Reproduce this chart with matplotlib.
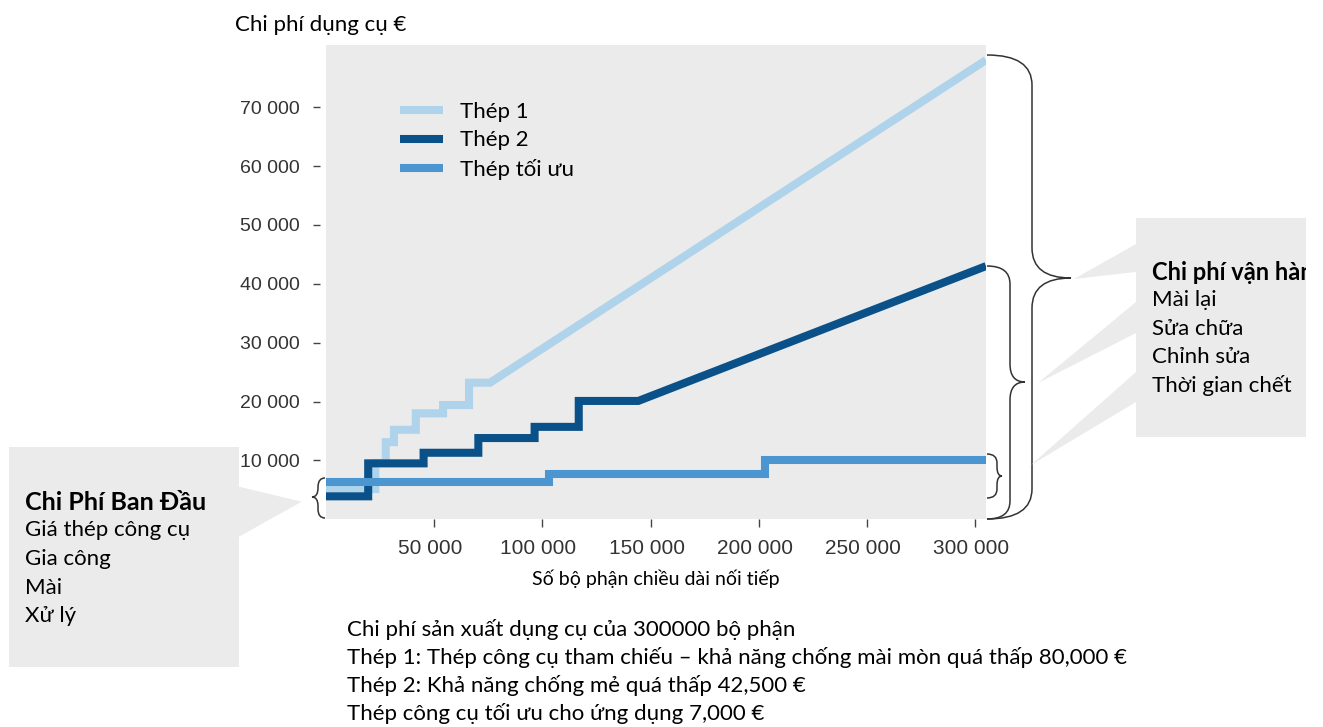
import matplotlib
matplotlib.use("Agg")
import matplotlib.pyplot as plt
from matplotlib.path import Path
from matplotlib.patches import PathPatch, Rectangle, Polygon
from matplotlib.ticker import FuncFormatter
from matplotlib.transforms import Affine2D, ScaledTranslation

# Data (parts, EUR)
thep1_x = [0, 22800, 22800, 27600, 27600, 31400, 31400, 41500, 41500, 54100, 54100, 66100, 66100, 75800, 305000]
thep1_y = [5150, 5150, 9560, 9560, 13100, 13100, 15200, 15200, 18000, 18000, 19400, 19400, 23200, 23200, 78000]

thep2_x = [0, 19500, 19500, 45100, 45100, 70400, 70400, 96400, 96400, 116800, 116800, 144300, 305000]
thep2_y = [3900, 3900, 9500, 9500, 11300, 11300, 13800, 13800, 15700, 15700, 20100, 20100, 43000]

toiuu_x = [0, 103000, 103000, 202900, 202900, 305000]
toiuu_y = [6250, 6250, 7650, 7650, 10100, 10100]

series_labels = ["Thép 1", "Thép 2", "Thép tối ưu"]
series_colors = ["#aed3ea", "#0a5189", "#4b95d1"]

x_ticks = [50000, 100000, 150000, 200000, 250000, 300000]
y_ticks = [10000, 20000, 30000, 40000, 50000, 60000, 70000]

left_box_lines = ["Chi Phí Ban Đầu", "Giá thép công cụ", "Gia công", "Mài", "Xử lý"]
right_box_lines = ["Chi phí vận hành", "Mài lại", "Sửa chữa", "Chỉnh sửa", "Thời gian chết"]
note_lines = [
    "Chi phí sản xuất dụng cụ của 300000 bộ phận",
    "Thép 1: Thép công cụ tham chiếu – khả năng chống mài mòn quá thấp 80,000 €",
    "Thép 2: Khả năng chống mẻ quá thấp 42,500 €",
    "Thép công cụ tối ưu cho ứng dụng 7,000 €",
]

W, H = 1323, 727
TEXT_FONT = ["Lato", "Noto Sans", "DejaVu Sans"]
TICK_FONT = "Liberation Sans"
GRAY = "#ebebeb"
FS = 16

fig = plt.figure(figsize=(W / 100, H / 100), dpi=100)
# pixel coords with origin at top-left, for the annotations around the chart
px = Affine2D().scale(1 / W, -1 / H).translate(0, 1) + fig.transFigure

ax = fig.add_axes([326 / W, (H - 519.3) / H, 660 / W, 474.3 / H])
ax.set_facecolor(GRAY)
for s in ax.spines.values():
    s.set_visible(False)

lw = 5.8
ax.plot(thep1_x, thep1_y, color=series_colors[0], lw=lw, solid_joinstyle="miter",
        solid_capstyle="butt", label=series_labels[0], zorder=2)
ax.plot(thep2_x, thep2_y, color=series_colors[1], lw=lw, solid_joinstyle="miter",
        solid_capstyle="butt", label=series_labels[1], zorder=3)
ax.plot(toiuu_x, toiuu_y, color=series_colors[2], lw=lw, solid_joinstyle="miter",
        solid_capstyle="butt", label=series_labels[2], zorder=4)

ax.set_xlim(0, 305000)
ax.set_ylim(0, 80550)
ax.set_xticks(x_ticks)
ax.set_yticks(y_ticks)
fmt = FuncFormatter(lambda v, p: f"{v:,.0f}".replace(",", " "))
ax.xaxis.set_major_formatter(fmt)
ax.yaxis.set_major_formatter(fmt)
ax.spines["left"].set_position(("outward", 4))
ax.tick_params(axis="y", length=5, width=1, color="#444", pad=10, labelsize=14, labelcolor="#333")
ax.tick_params(axis="x", length=6, width=1, color="#444", pad=8, labelsize=15, labelcolor="#333")
for t in ax.get_yticklabels():
    t.set_fontfamily(TICK_FONT)
shift = ScaledTranslation(-0.04, 0, fig.dpi_scale_trans)
for t in ax.get_xticklabels():
    t.set_fontfamily(TICK_FONT)
    t.set_transform(t.get_transform() + shift)

leg = ax.legend(loc="upper left", bbox_to_anchor=((400 - 326) / 660, (519.3 - 102) / 474.3),
                frameon=False, borderpad=0, borderaxespad=0, handlelength=1.95,
                handletextpad=0.75, labelspacing=0.38,
                prop={"family": TEXT_FONT, "size": FS})

fig.text(235, 25, "Chi phí dụng cụ €", transform=px, family=TEXT_FONT, fontsize=FS, va="center")
fig.text(656, 579, "Số bộ phận chiều dài nối tiếp", transform=px, family=TEXT_FONT,
         fontsize=14, ha="center", va="center")

for i, line in enumerate(note_lines):
    fig.text(347, 629 + i * 28, line, transform=px, family=TEXT_FONT, fontsize=FS, va="center")


def brace(x_tip_side, x_mid, x_point, y0, y1, ymid, r):
    verts = [(x_tip_side, y0), (x_mid, y0), (x_mid, y0 + r),
             (x_mid, ymid - r), (x_mid, ymid), (x_point, ymid),
             (x_mid, ymid), (x_mid, ymid + r),
             (x_mid, y1 - r), (x_mid, y1), (x_tip_side, y1)]
    codes = [Path.MOVETO, Path.CURVE3, Path.CURVE3,
             Path.LINETO, Path.CURVE3, Path.CURVE3,
             Path.CURVE3, Path.CURVE3,
             Path.LINETO, Path.CURVE3, Path.CURVE3]
    p = PathPatch(Path(verts, codes), fill=False, edgecolor="#333", lw=1.1, transform=px)
    fig.add_artist(p)


# left callout
fig.add_artist(Polygon([(239, 486.7), (239, 536.7), (301.7, 501.7)], closed=True,
                       facecolor=GRAY, edgecolor="none", transform=px))
fig.add_artist(Rectangle((9, 447), 230, 220, facecolor=GRAY, edgecolor="none", transform=px))
for i, line in enumerate(left_box_lines):
    fig.text(25, 502 + i * 28.5, line, transform=px, family=TEXT_FONT, fontsize=18 if i == 0 else FS,
             va="center", fontweight="bold" if i == 0 else "normal")
brace(325, 318, 312, 478, 518, 497, 9)

# right braces
brace(987, 1032, 1071, 55, 519, 278, 30)
brace(987, 1010, 1025, 266, 519, 382, 18)
brace(987, 997, 1002, 454, 498, 476, 9)

# right callout, text cut at the box edge like the original
for tri in [[(1074, 279), (1136, 244), (1136, 272)],
            [(1038, 383), (1136, 302), (1136, 333)],
            [(1031, 465), (1136, 372), (1136, 402)]]:
    fig.add_artist(Polygon(tri, closed=True, facecolor=GRAY, edgecolor="none", transform=px))
rbox = Rectangle((1136, 218), 169.5, 219, facecolor=GRAY, edgecolor="none", transform=px)
fig.add_artist(rbox)
for i, line in enumerate(right_box_lines):
    t = fig.text(1152, 272 + i * 28.3, line, transform=px, family=TEXT_FONT,
                 fontsize=FS + 1 if i == 0 else FS,
                 va="center", fontweight="bold" if i == 0 else "normal")
    t.set_clip_path(rbox)

fig.savefig("out.png", dpi=100)
